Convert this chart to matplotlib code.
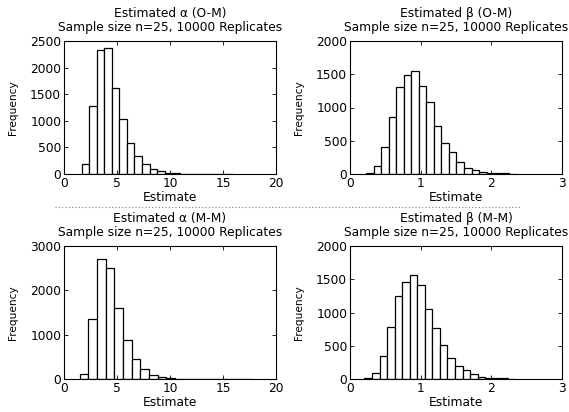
import matplotlib
matplotlib.use("Agg")
import matplotlib.pyplot as plt
import numpy as np

plt.rcParams['font.family'] = ['DejaVu Sans']

# histogram counts (20 bins each)
alpha_om = [194, 1284, 2331, 2375, 1623, 1028, 589, 333, 182, 88,
            50, 26, 22, 8, 6, 4, 3, 2, 0, 8]
beta_om = [20, 115, 406, 857, 1308, 1484, 1549, 1328, 1083, 722,
           466, 331, 180, 90, 60, 30, 20, 10, 10, 5]
alpha_mm = [120, 1358, 2700, 2498, 1605, 870, 450, 222, 96, 40,
            16, 6, 4, 3, 2, 0, 4, 0, 0, 3]
beta_mm = [20, 90, 348, 786, 1254, 1453, 1567, 1418, 1055, 771,
           517, 318, 189, 129, 70, 35, 20, 15, 10, 5]

# data range of each histogram (min, max of the estimates)
alpha_om_range = (1.67, 15.9)
beta_om_range = (0.227, 2.36)
alpha_mm_range = (1.48, 17.8)
beta_mm_range = (0.204, 2.34)

titles = ["Estimated \u03b1 (O-M)", "Estimated \u03b2 (O-M)",
          "Estimated \u03b1 (M-M)", "Estimated \u03b2 (M-M)"]
subtitle = "Sample size n=25, 10000 Replicates"

xlims = [(0, 20), (0, 3), (0, 20), (0, 3)]
xticks = [[0, 5, 10, 15, 20], [0, 1, 2, 3], [0, 5, 10, 15, 20], [0, 1, 2, 3]]
ylims = [(0, 2500), (0, 2000), (0, 3000), (0, 2000)]
yticks = [np.arange(0, 2501, 500), np.arange(0, 2001, 500),
          np.arange(0, 3001, 1000), np.arange(0, 2001, 500)]

fig = plt.figure(figsize=(5.69, 4.12), dpi=100)

W, H = 569, 412
boxes = [(64, 41), (350, 41), (64, 246), (350, 246)]
aw, ah = 212, 133

counts = [alpha_om, beta_om, alpha_mm, beta_mm]
ranges = [alpha_om_range, beta_om_range, alpha_mm_range, beta_mm_range]

for i in range(4):
    x0, y0 = boxes[i]
    ax = fig.add_axes([x0 / W, 1 - (y0 + ah) / H, aw / W, ah / H])
    edges = np.linspace(ranges[i][0], ranges[i][1], len(counts[i]) + 1)
    ax.bar(edges[:-1], counts[i], width=np.diff(edges), align='edge',
           facecolor='white', edgecolor='black', linewidth=0.9)
    ax.set_xlim(*xlims[i])
    ax.set_ylim(*ylims[i])
    ax.set_xticks(xticks[i])
    ax.set_yticks(yticks[i])
    ax.tick_params(direction='in', length=3, width=0.6, labelsize=8.8,
                   top=True, right=True, pad=2, colors='black')
    for s in ax.spines.values():
        s.set_linewidth(0.8)
    ax.set_xlabel("Estimate", fontsize=8.8, labelpad=1)
    ax.set_ylabel("Frequency", fontsize=7.6, labelpad=9)
    ax.set_title(titles[i] + "\n" + subtitle, fontsize=8.8, pad=7,
                 linespacing=1.15)

# dotted separator between the two rows
fig.add_artist(plt.Line2D([55 / W, 520 / W], [1 - 207 / H, 1 - 207 / H],
                          color='gray', linestyle=(0, (1, 2)), linewidth=0.8))

fig.savefig("out.png", dpi=100)
